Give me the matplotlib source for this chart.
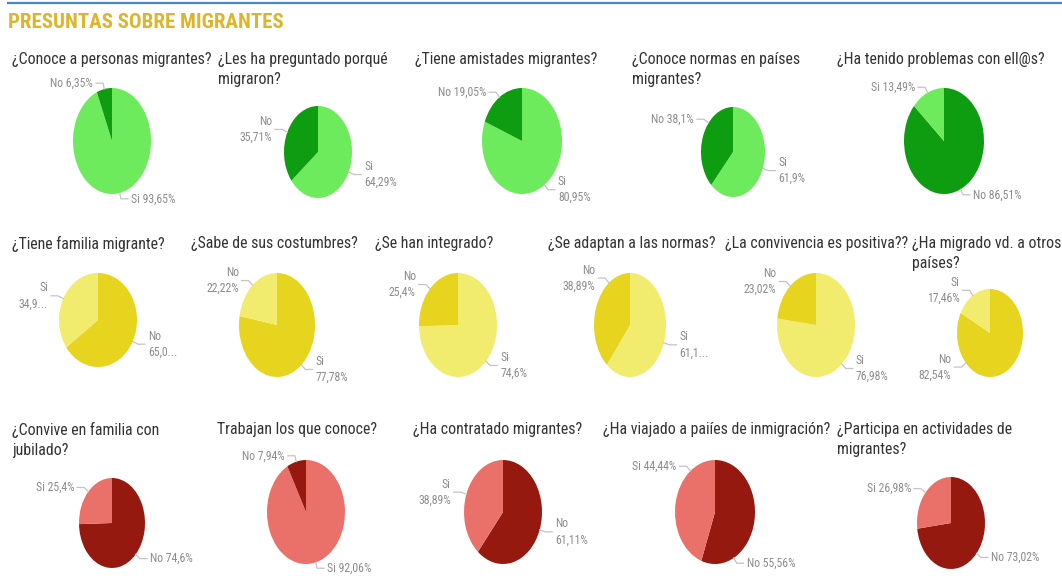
"""Pie-chart dashboard: survey questions about migrants."""

import matplotlib.pyplot as plt
import numpy as np
from matplotlib.lines import Line2D

# ── Data ────────────────────────────────────────────────────────────

TITLE = "PRESUNTAS SOBRE MIGRANTES"

QUESTIONS = [
    "¿Conoce a personas migrantes?",
    "¿Les ha preguntado porqué\nmigraron?",
    "¿Tiene amistades migrantes?",
    "¿Conoce normas en países\nmigrantes?",
    "¿Ha tenido problemas con ell@s?",
    "¿Tiene familia migrante?",
    "¿Sabe de sus costumbres?",
    "¿Se han integrado?",
    "¿Se adaptan a las normas?",
    "¿La convivencia es positiva??",
    "¿Ha migrado vd. a otros\npaíses?",
    "¿Convive en familia con\njubilado?",
    "Trabajan los que conoce?",
    "¿Ha contratado migrantes?",
    "¿Ha viajado a paiíes de inmigración?",
    "¿Participa en actividades de\nmigrantes?",
]

SI_PCT = [93.65, 64.29, 80.95, 61.9, 13.49,
          34.92, 77.78, 74.6, 61.11, 76.98, 17.46,
          25.4, 92.06, 38.89, 44.44, 26.98]
NO_PCT = [6.35, 35.71, 19.05, 38.1, 86.51,
          65.08, 22.22, 25.4, 38.89, 23.02, 82.54,
          74.6, 7.94, 61.11, 55.56, 73.02]

ROW = [0] * 5 + [1] * 6 + [2] * 5
SI_IS_DARK = {6}                      # "¿Sabe de sus costumbres?"
TRUNCATED = {(5, "Si"), (5, "No"), (8, "Si")}
WRAPPED = {(1, "Si"), (1, "No"), (2, "Si"), (3, "Si"),
           (5, "Si"), (5, "No"), (6, "Si"), (6, "No"),
           (7, "Si"), (7, "No"), (8, "Si"), (8, "No"),
           (9, "Si"), (9, "No"), (10, "Si"), (10, "No"),
           (13, "Si"), (13, "No")}

# ── Style / layout ──────────────────────────────────────────────────

W, H = 1062, 578
PALETTES = [("#6DEB5C", "#0E9C10"),   # (light, dark)
            ("#F1EC6E", "#E6D41F"),
            ("#E9716A", "#95190F")]
LABEL_COLOR = "#8C8C8C"
LEADER_COLOR = "#C4C4C4"
FONT = ["Liberation Sans Narrow", "Roboto Condensed", "Roboto", "DejaVu Sans"]

# pie centre and radii in pixels
PIE_BOXES = [(112, 141, 39, 53), (318, 152, 34, 46), (522, 141, 40, 53),
             (733, 152, 32, 45), (944, 141, 40, 53),
             (98, 320, 39, 47), (277, 325, 38, 52), (458, 325, 39, 52),
             (630, 325, 36, 52), (816, 325, 39, 52), (990, 333, 33, 44),
             (112, 523, 33, 45), (306, 512, 39, 52), (503, 512, 39, 52),
             (715, 512, 40, 52), (951, 523, 34, 46)]
TITLE_POS = [(12, 58), (218, 58), (415, 58), (632, 58), (837, 58),
             (12, 242), (191, 242), (375, 242), (548, 242), (725, 242),
             (912, 242),
             (12, 428), (217, 428), (413, 428), (603, 428), (837, 428)]
# label anchor angle overrides (degrees) where the labels were moved
ANGLE_OVERRIDE = {(3, "No"): 140, (8, "No"): 126, (10, "No"): 223,
                  (14, "No"): -62, (14, "Si"): 128}


def fx(x):
    return x / W


def fy(y):
    return 1 - y / H


def _fmt(pct, truncate):
    s = f"{pct:.2f}".rstrip("0").rstrip(".").replace(".", ",")
    if truncate:
        return s[:4] + "..."
    return s + "%"


def draw_pie(fig, i):
    cx, cy, rx, ry = PIE_BOXES[i]
    light, dark = PALETTES[ROW[i]]
    si_col, no_col = (dark, light) if i in SI_IS_DARK else (light, dark)
    slices = [("Si", SI_PCT[i], si_col), ("No", NO_PCT[i], no_col)]
    slices.sort(key=lambda s: -s[1])

    ax = fig.add_axes([fx(cx - rx), fy(cy + ry), 2 * rx / W, 2 * ry / H])
    wedges, _ = ax.pie([s[1] for s in slices], colors=[s[2] for s in slices],
                       startangle=90, counterclock=False,
                       wedgeprops=dict(linewidth=0))
    ax.set_xlim(-1, 1)
    ax.set_ylim(-1, 1)
    ax.set_aspect("auto")
    ax.axis("off")

    for w, (cat, pct, _) in zip(wedges, slices):
        ang = ANGLE_OVERRIDE.get((i, cat), (w.theta1 + w.theta2) / 2)
        a = np.deg2rad(ang)
        x0, y0 = cx + rx * np.cos(a), cy - ry * np.sin(a)
        x1, y1 = x0 + 6 * np.cos(a), y0 - 6 * np.sin(a)
        side = 1 if np.cos(a) >= 0 else -1
        x2 = x1 + 7 * side
        fig.add_artist(Line2D([fx(x0), fx(x1), fx(x2)], [fy(y0), fy(y1), fy(y1)],
                              transform=fig.transFigure, color=LEADER_COLOR, lw=0.9))
        sep = "\n" if (i, cat) in WRAPPED else " "
        text = f"{cat}{sep}{_fmt(pct, (i, cat) in TRUNCATED)}"
        ha = "left" if side > 0 else "right"
        fig.text(fx(x2 + 3 * side), fy(y1), text, ha=ha, va="center",
                 multialignment=ha, fontsize=8.5, color=LABEL_COLOR,
                 family=FONT, linespacing=1.3)


fig = plt.figure(figsize=(W / 100, H / 100), dpi=100, facecolor="white")
fig.add_artist(Line2D([fx(8), fx(W)], [fy(2.5), fy(2.5)], transform=fig.transFigure,
                      color="#4A86C8", lw=1.6))
fig.text(fx(8), fy(22), TITLE, fontsize=15, fontweight="bold", color="#DDB52B",
         va="center", family=FONT)

for i, q in enumerate(QUESTIONS):
    tx, ty = TITLE_POS[i]
    fig.text(fx(tx), fy(ty - 6), q, ha="left", va="top", fontsize=11.4,
             color="#333333", family=FONT, linespacing=1.38)
    draw_pie(fig, i)

fig.savefig("out.png", dpi=100, facecolor="white")
